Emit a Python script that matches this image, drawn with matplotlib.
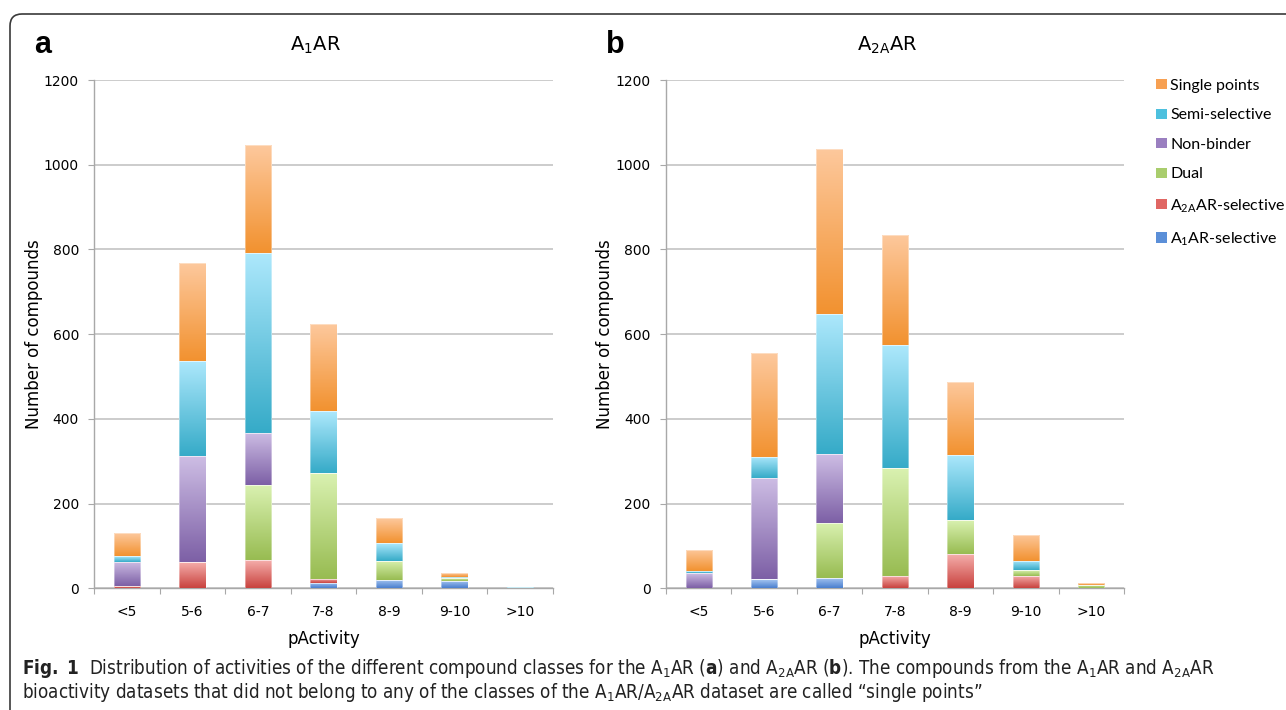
import matplotlib
matplotlib.use('Agg')
import matplotlib.pyplot as plt
import numpy as np
from matplotlib import font_manager
from matplotlib.colors import LinearSegmentedColormap
from matplotlib.patches import PathPatch, Rectangle
from matplotlib.path import Path

ttf = font_manager.fontManager.ttflist
names = {f.name for f in ttf}
def pick(*cands):
    for n in cands:
        if n in names:
            return n
    return 'DejaVu Sans'

# caption font: a condensed face if one is installed
CAP, CAP_STRETCH, CAP_SIZE = 'DejaVu Sans', 'normal', 12.2
if 'Liberation Sans Narrow' in names:
    CAP, CAP_STRETCH, CAP_SIZE = 'Liberation Sans Narrow', 'normal', 13.5
else:
    for fam in ['DejaVu Sans', 'Noto Sans', 'Open Sans', 'Roboto']:
        cond = [f for f in ttf if f.name == fam and str(f.stretch) in ('condensed', 'semi-condensed')]
        if cond:
            CAP, CAP_STRETCH, CAP_SIZE = fam, str(cond[0].stretch), 13.5
            break

LEG = pick('Lato', 'Open Sans', 'DejaVu Sans')
MAIN = 'DejaVu Sans'

suffix = '' if CAP_STRETCH == 'normal' else ':stretch=' + CAP_STRETCH
plt.rcParams['font.family'] = [MAIN]
plt.rcParams['mathtext.fontset'] = 'custom'
plt.rcParams['mathtext.rm'] = CAP + suffix
plt.rcParams['mathtext.bf'] = CAP + ':bold' + suffix
plt.rcParams['mathtext.it'] = CAP + ':italic' + suffix

# ---------------- data ----------------
categories = ['<5', '5-6', '6-7', '7-8', '8-9', '9-10', '>10']

# panel a (A1AR), segment counts, stacked bottom -> top
a_a1_selective = [0, 0, 0, 12, 20, 17, 0]
a_a2a_selective = [5, 63, 67, 11, 0, 0, 0]
a_dual = [0, 0, 176, 250, 45, 7, 0]
a_non_binder = [58, 249, 124, 0, 0, 0, 0]
a_semi_selective = [14, 225, 425, 145, 42, 3, 2]
a_single_points = [53, 231, 254, 205, 59, 9, 0]

# panel b (A2AAR)
b_a1_selective = [0, 21, 25, 0, 0, 0, 0]
b_a2a_selective = [0, 0, 0, 30, 82, 29, 0]
b_dual = [0, 0, 130, 254, 79, 14, 8]
b_non_binder = [35, 239, 161, 0, 0, 0, 0]
b_semi_selective = [5, 50, 331, 291, 154, 22, 0]
b_single_points = [51, 245, 390, 260, 173, 62, 4]

class_labels = ['A$_\\mathregular{1}$AR-selective', 'A$_\\mathregular{2A}$AR-selective',
                'Dual', 'Non-binder', 'Semi-selective', 'Single points']
# (top colour, bottom colour, legend colour)
class_colors = [
    ('#a9c8f2', '#4a7fcf', '#5b8fd8'),
    ('#f6b1ae', '#c9433f', '#e06663'),
    ('#d9f1b0', '#98bc52', '#a9cd6d'),
    ('#cdbde4', '#7d60a6', '#9a7fc0'),
    ('#ade8fc', '#36abc8', '#4dc0de'),
    ('#fdc89c', '#f29230', '#f7a052'),
]

panels = [
    ('a', 'A$_\\mathregular{1}$AR',
     [a_a1_selective, a_a2a_selective, a_dual, a_non_binder, a_semi_selective, a_single_points]),
    ('b', 'A$_\\mathregular{2A}$AR',
     [b_a1_selective, b_a2a_selective, b_dual, b_non_binder, b_semi_selective, b_single_points]),
]

W, H = 1286, 710
fig = plt.figure(figsize=(W / 100, H / 100), dpi=100)

axes_px = [(94.3, 552.7), (666.0, 1124.0)]
top_px, bot_px = 80.0, 588.3

grid_col = '#bfbfbf'
spine_col = '#a8a8a8'

legend_handles = None
for (letter, title, series), (xl, xr) in zip(panels, axes_px):
    ax = fig.add_axes([xl / W, 1 - bot_px / H, (xr - xl) / W, (bot_px - top_px) / H])
    x = np.arange(len(categories))
    bottom = np.zeros(len(categories))
    handles = []
    for vals, (ctop, cbot, cleg) in zip(series, class_colors):
        vals = np.array(vals, dtype=float)
        bars = ax.bar(x, vals, width=0.40, bottom=bottom, color=cleg,
                      edgecolor='none', zorder=2)
        cmap = LinearSegmentedColormap.from_list('g', [cbot, ctop])
        grad = np.linspace(0, 1, 64).reshape(-1, 1)
        for p in bars.patches:
            if p.get_height() <= 0:
                continue
            x0, y0 = p.get_x(), p.get_y()
            im = ax.imshow(grad, extent=[x0, x0 + p.get_width(), y0, y0 + p.get_height()],
                           origin='lower', aspect='auto', cmap=cmap, zorder=3,
                           interpolation='bilinear')
            im.set_clip_path(p)
        ax.bar(x, vals, width=0.40, bottom=bottom, facecolor='none',
               edgecolor=(1, 1, 1, 0.55), linewidth=0.5, zorder=4)
        handles.append(Rectangle((0, 0), 1, 1, facecolor=cleg, edgecolor='none'))
        bottom = bottom + vals
    legend_handles = handles

    ax.set_xlim(-0.5, len(categories) - 0.5)
    ax.set_ylim(0, 1200)
    ax.set_yticks(np.arange(0, 1201, 200))
    ax.yaxis.grid(True, color=grid_col, linewidth=1.1, zorder=0)
    ax.set_axisbelow(True)
    for s in ['top', 'right']:
        ax.spines[s].set_visible(False)
    for s in ['left', 'bottom']:
        ax.spines[s].set_color(spine_col)
        ax.spines[s].set_linewidth(1.0)
    ax.set_xticks(np.arange(-0.5, len(categories), 1.0))
    ax.set_xticklabels([])
    ax.set_xticks(x, minor=True)
    ax.set_xticklabels(categories, minor=True)
    ax.tick_params(axis='x', which='major', length=4, color=spine_col, direction='out')
    ax.tick_params(axis='x', which='minor', length=0, pad=12, labelsize=10)
    ax.tick_params(axis='y', length=4, color=spine_col, pad=7, labelsize=10)
    ax.set_ylabel('Number of compounds', fontsize=12, labelpad=1)
    ax.set_xlabel('pActivity', fontsize=12, labelpad=8)

    cx = (xl + xr) / 2 / W - 0.006
    fig.text(cx, 1 - 45 / H, title, fontsize=14, ha='center', va='center')
    fig.text((xl - 60) / W, 1 - 45 / H, letter, fontsize=22, fontweight='bold',
             ha='left', va='center', family=['Liberation Sans', 'DejaVu Sans'])

# legend (top entry first)
leg = fig.legend(legend_handles[::-1], class_labels[::-1],
                 loc='upper left', bbox_to_anchor=(1156 / W, 1 - 79 / H),
                 frameon=False, handlelength=0.7, handleheight=0.6,
                 handletextpad=0.2, labelspacing=0.97,
                 prop={'family': LEG, 'size': 11.5}, borderaxespad=0, borderpad=0)

# frame with rounded top-left corner
r = 12
x0p, y0p = 10, 14
verts = [(x0p, H), (x0p, y0p + r), (x0p, y0p), (x0p + r, y0p), (W, y0p)]
codes = [Path.MOVETO, Path.LINETO, Path.CURVE3, Path.CURVE3, Path.LINETO]
verts_f = [(vx / W, 1 - vy / H) for vx, vy in verts]
frame = PathPatch(Path(verts_f, codes), transform=fig.transFigure, facecolor='none',
                  edgecolor='#3a3a3a', linewidth=1.2)
fig.add_artist(frame)

# caption
line1 = (r'$\mathbf{Fig.\ 1}$  Distribution of activities of the different compound classes for the '
         r'A$_\mathregular{1}$AR ($\mathbf{a}$) and A$_\mathregular{2A}$AR ($\mathbf{b}$). '
         r'The compounds from the A$_\mathregular{1}$AR and A$_\mathregular{2A}$AR')
line2 = (r'bioactivity datasets that did not belong to any of the classes of the '
         r'A$_\mathregular{1}$AR/A$_\mathregular{2A}$AR dataset are called “single points”')
for ln, yb in [(line1, 674), (line2, 698)]:
    fig.text(22 / W, 1 - yb / H, ln, fontsize=CAP_SIZE, family=[CAP, 'DejaVu Sans'],
             fontstretch=CAP_STRETCH, ha='left', va='baseline', color='#222222')

fig.savefig('out.png', dpi=100)
